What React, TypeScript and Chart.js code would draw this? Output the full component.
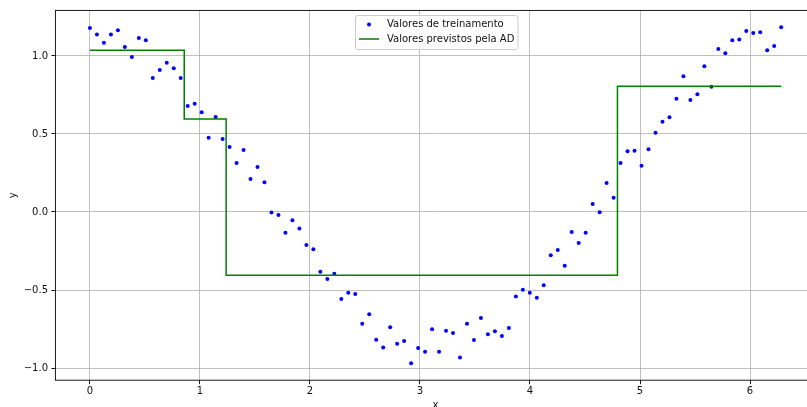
import React, { useEffect, useRef } from "react";
import { Chart, registerables } from "chart.js";

Chart.register(...registerables);

// Training samples (x, y)
const xTrain = [
  0, 0.0635, 0.1269, 0.1904, 0.2539, 0.3173, 0.3808, 0.4443, 0.5077, 0.5712,
  0.6347, 0.6981, 0.7616, 0.8251, 0.8885, 0.952, 1.0155, 1.0789, 1.1424, 1.2059,
  1.2693, 1.3328, 1.3963, 1.4597, 1.5232, 1.5867, 1.6501, 1.7136, 1.7771, 1.8405,
  1.904, 1.9675, 2.0309, 2.0944, 2.1579, 2.2213, 2.2848, 2.3483, 2.4117, 2.4752,
  2.5387, 2.6021, 2.6656, 2.7291, 2.7925, 2.856, 2.9195, 2.9829, 3.0464, 3.1099,
  3.1733, 3.2368, 3.3003, 3.3637, 3.4272, 3.4907, 3.5541, 3.6176, 3.6811, 3.7445,
  3.808, 3.8715, 3.9349, 3.9984, 4.0619, 4.1253, 4.1888, 4.2523, 4.3157, 4.3792,
  4.4427, 4.5061, 4.5696, 4.6331, 4.6965, 4.76, 4.8235, 4.8869, 4.9504, 5.0139,
  5.0773, 5.1408, 5.2043, 5.2677, 5.3312, 5.3947, 5.4581, 5.5216, 5.5851, 5.6485,
  5.712, 5.7755, 5.8389, 5.9024, 5.9659, 6.0293, 6.0928, 6.1563, 6.2197, 6.2832,
];
const yTrain = [
  1.18, 1.137, 1.085, 1.137, 1.165, 1.058, 0.994, 1.115, 1.1, 0.859,
  0.91, 0.957, 0.921, 0.859, 0.679, 0.694, 0.639, 0.476, 0.609, 0.468,
  0.417, 0.314, 0.397, 0.212, 0.288, 0.19, -0.004, -0.019, -0.133, -0.053,
  -0.105, -0.212, -0.239, -0.383, -0.43, -0.395, -0.558, -0.517, -0.526, -0.716,
  -0.656, -0.818, -0.869, -0.739, -0.844, -0.827, -0.97, -0.872, -0.895, -0.752,
  -0.895, -0.761, -0.776, -0.932, -0.716, -0.821, -0.679, -0.784, -0.765, -0.795,
  -0.744, -0.541, -0.498, -0.517, -0.549, -0.47, -0.278, -0.244, -0.344, -0.128,
  -0.199, -0.133, 0.051, -0.002, 0.186, 0.092, 0.314, 0.389, 0.393, 0.297,
  0.402, 0.508, 0.579, 0.607, 0.726, 0.87, 0.718, 0.754, 0.934, 0.803,
  1.045, 1.017, 1.1, 1.105, 1.16, 1.147, 1.152, 1.036, 1.064, 1.184,
];

// Decision tree prediction: split points and leaf values
const predRange = [0, 6.2832];
const treeSplits = [0.857, 1.238, 4.795];
const leafValues = [1.036, 0.596, -0.406, 0.806];

const xTicks = [0, 1, 2, 3, 4, 5, 6];
const yTicks = [-1, -0.5, 0, 0.5, 1];
const seriesLabels = ["Valores de treinamento", "Valores previstos pela AD"];
const xTitle = "x";
const yTitle = "y";

const FONT = '"DejaVu Sans", sans-serif';

export default function App() {
  const ref = useRef<HTMLCanvasElement>(null);

  useEffect(() => {
    const canvas = ref.current!;
    const trainPts = xTrain.map((x, i) => ({ x, y: yTrain[i] }));
    const bounds = [predRange[0], ...treeSplits, predRange[1]];
    const predPts: { x: number; y: number }[] = [];
    leafValues.forEach((v, i) => {
      predPts.push({ x: bounds[i], y: v });
      predPts.push({ x: bounds[i + 1], y: v });
    });

    const framePlugin = {
      id: "frame",
      afterDatasetsDraw(chart: any) {
        const { ctx, chartArea } = chart;
        ctx.save();
        ctx.strokeStyle = "#000";
        ctx.lineWidth = 0.9;
        ctx.strokeRect(
          chartArea.left,
          chartArea.top,
          chartArea.right - chartArea.left,
          chartArea.bottom - chartArea.top
        );
        ctx.restore();
      },
      afterDraw(chart: any) {
        const ctx = chart.ctx;
        ctx.save();
        const bx = 355.5, by = 15.5, bw = 162.5, bh = 34, r = 2.5;
        ctx.beginPath();
        ctx.moveTo(bx + r, by);
        ctx.lineTo(bx + bw - r, by);
        ctx.quadraticCurveTo(bx + bw, by, bx + bw, by + r);
        ctx.lineTo(bx + bw, by + bh - r);
        ctx.quadraticCurveTo(bx + bw, by + bh, bx + bw - r, by + bh);
        ctx.lineTo(bx + r, by + bh);
        ctx.quadraticCurveTo(bx, by + bh, bx, by + bh - r);
        ctx.lineTo(bx, by + r);
        ctx.quadraticCurveTo(bx, by, bx + r, by);
        ctx.closePath();
        ctx.fillStyle = "rgba(255,255,255,0.8)";
        ctx.fill();
        ctx.strokeStyle = "#cccccc";
        ctx.lineWidth = 1;
        ctx.stroke();

        ctx.fillStyle = "#0000ff";
        ctx.beginPath();
        ctx.arc(369, 24.5, 2, 0, Math.PI * 2);
        ctx.fill();

        ctx.strokeStyle = "#008000";
        ctx.lineWidth = 1.5;
        ctx.beginPath();
        ctx.moveTo(359, 39);
        ctx.lineTo(379, 39);
        ctx.stroke();

        ctx.fillStyle = "#111";
        ctx.font = `10px ${FONT}`;
        ctx.textBaseline = "middle";
        ctx.textAlign = "left";
        ctx.fillText(seriesLabels[0], 387, 24);
        ctx.fillText(seriesLabels[1], 387, 39);
        ctx.restore();
      },
    };

    const chart = new Chart(canvas, {
      type: "line",
      data: {
        datasets: [
          {
            label: seriesLabels[1],
            data: predPts,
            borderColor: "#008000",
            backgroundColor: "#008000",
            borderWidth: 1.5,
            pointRadius: 0,
            fill: false,
            tension: 0,
            order: 0,
          },
          {
            label: seriesLabels[0],
            data: trainPts,
            showLine: false,
            pointRadius: 2,
            pointBorderWidth: 0,
            pointBackgroundColor: "#0000ff",
            pointBorderColor: "#0000ff",
            borderColor: "#0000ff",
            order: 1,
          },
        ],
      },
      options: {
        animation: false,
        responsive: false,
        devicePixelRatio: 1,
        layout: { padding: { top: 10.4, right: 14.3, left: 0, bottom: 0 } },
        plugins: {
          legend: { display: false },
          tooltip: { enabled: false },
        },
        scales: {
          x: {
            type: "linear",
            min: -0.314,
            max: 6.597,
            afterBuildTicks: (s: any) => {
              s.ticks = xTicks.map((v) => ({ value: v }));
            },
            afterFit: (s: any) => {
              s.height = 39.8;
            },
            ticks: {
              callback: (v: any) => String(v),
              font: { family: FONT, size: 10 },
              color: "#111",
              padding: 1.5,
              maxRotation: 0,
            },
            grid: {
              color: "#b0b0b0",
              lineWidth: 0.8,
              tickLength: 4,
              tickColor: "#000",
              tickWidth: 0.9,
            },
            border: { display: false },
            title: {
              display: true,
              text: xTitle,
              font: { family: FONT, size: 10 },
              color: "#111",
              padding: { top: 0, bottom: 9 },
            },
          },
          y: {
            type: "linear",
            min: -1.078,
            max: 1.292,
            afterBuildTicks: (s: any) => {
              s.ticks = yTicks.map((v) => ({ value: v }));
            },
            afterFit: (s: any) => {
              s.width = 55.4;
            },
            ticks: {
              callback: (v: any) =>
                (Number(v) < 0 ? "\u2212" : "") + Math.abs(Number(v)).toFixed(1),
              font: { family: FONT, size: 10 },
              color: "#111",
              padding: 3.4,
            },
            grid: {
              color: "#b0b0b0",
              lineWidth: 0.8,
              tickLength: 4,
              tickColor: "#000",
              tickWidth: 0.9,
            },
            border: { display: false },
            title: {
              display: true,
              text: yTitle,
              font: { family: FONT, size: 10 },
              color: "#111",
              padding: { top: 7, bottom: 0 },
            },
          },
        },
      },
      plugins: [framePlugin],
    } as any);

    return () => chart.destroy();
  }, []);

  return (
    <div
      style={{
        position: "fixed",
        left: 0,
        top: 0,
        width: 807,
        height: 407,
        overflow: "hidden",
        background: "#fff",
      }}
    >
      <canvas ref={ref} width={830} height={420} style={{ display: "block" }} />
    </div>
  );
}
